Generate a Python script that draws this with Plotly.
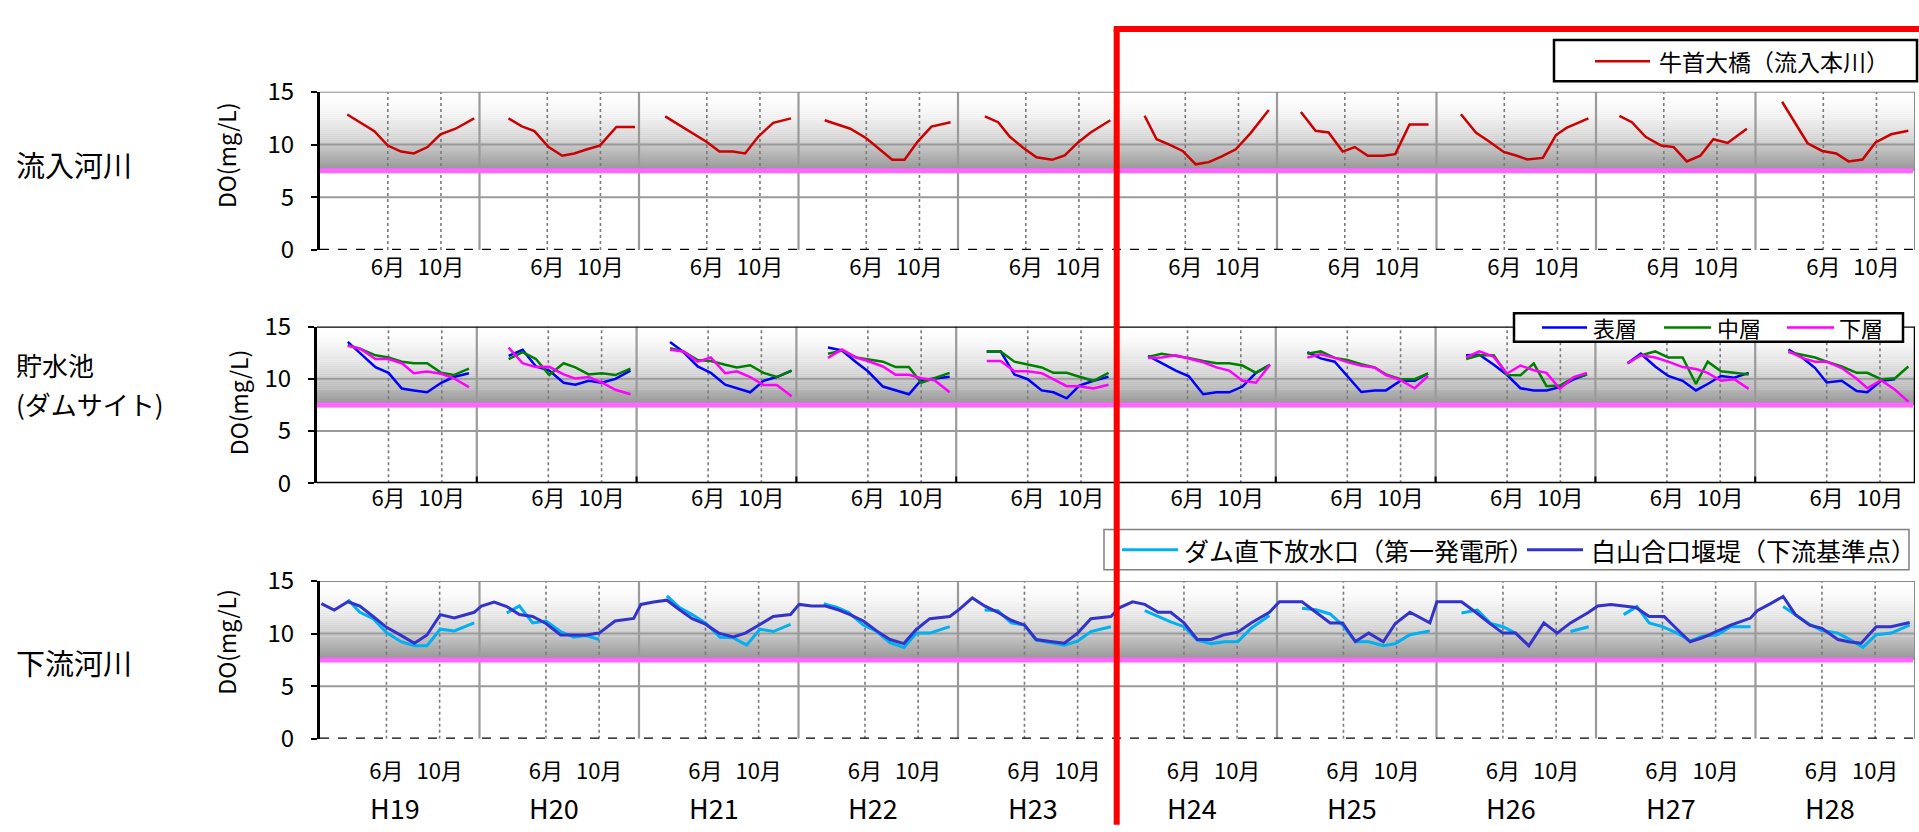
import plotly.graph_objects as go

# ---------------- data ----------------
years = ["H19", "H20", "H21", "H22", "H23", "H24", "H25", "H26", "H27", "H28"]
month_ticks = [5, 9]
month_ticktext = ["6月", "10月"]

# 流入河川 : 牛首大橋(流入本川)  (month position within year: 0 = 1月, 5 = 6月)
inflow_month = [
    [1.95, 3.99, 5.0, 6.0, 6.95, 7.99, 8.96, 10.1, 11.5],
    [2.08, 3.09, 4.03, 5.1, 6.13, 7.03, 8.0, 8.95, 10.2, 11.6],
    [1.87, 4.0, 5.0, 5.95, 6.95, 7.88, 8.88, 10.0, 11.34],
    [1.87, 3.8, 5.0, 6.95, 7.88, 8.88, 9.9, 11.34],
    [1.92, 2.92, 3.8, 4.8, 5.8, 6.98, 7.93, 8.93, 9.88, 11.36],
    [1.94, 2.84, 3.8, 4.8, 5.79, 6.77, 7.75, 8.8, 9.9, 11.28],
    [1.7, 2.8, 3.78, 4.84, 5.75, 6.73, 7.9, 8.8, 9.87, 11.3],
    [1.74, 2.88, 3.78, 4.96, 5.94, 6.73, 7.9, 8.89, 9.68, 11.33],
    [1.66, 2.6, 3.63, 4.8, 5.75, 6.73, 7.75, 8.73, 9.8, 11.25],
    [1.9, 2.84, 3.82, 4.92, 5.98, 6.9, 7.95, 8.93, 10.1, 11.4],
]
inflow_do = [
    [12.85, 11.27, 9.9, 9.33, 9.15, 9.76, 10.97, 11.5, 12.48],
    [12.48, 11.73, 11.27, 9.76, 8.94, 9.15, 9.55, 9.9, 11.67, 11.67],
    [12.67, 11.03, 10.24, 9.33, 9.33, 9.15, 10.76, 12.06, 12.48],
    [12.3, 11.5, 10.6, 8.55, 8.55, 10.3, 11.7, 12.12],
    [12.67, 12.12, 10.73, 9.7, 8.79, 8.55, 8.97, 10.2, 11.15, 12.3],
    [12.73, 10.5, 10.0, 9.39, 8.12, 8.33, 8.88, 9.55, 11.06, 13.27],
    [13.09, 11.3, 11.15, 9.33, 9.76, 8.94, 8.94, 9.09, 11.9, 11.9],
    [12.88, 11.12, 10.36, 9.3, 8.94, 8.58, 8.73, 10.9, 11.58, 12.48],
    [12.73, 12.12, 10.73, 9.9, 9.76, 8.4, 8.94, 10.5, 10.15, 11.5],
    [14.06, 12.12, 10.12, 9.39, 9.15, 8.4, 8.58, 10.2, 10.97, 11.3],
]

# 貯水池(ダムサイト) : 表層 / 中層 / 下層
dam_month = [
    [1.94, 2.9, 4.02, 5.0, 6.0, 6.9, 7.9, 8.96, 9.9, 11.04],
    [2.02, 3.07, 4.07, 5.07, 6.15, 7.03, 8.03, 9.0, 10.04, 11.17],
    [2.14, 3.15, 4.22, 5.2, 6.28, 7.16, 8.16, 9.16, 10.16, 11.27],
    [2.0, 3.05, 4.12, 5.0, 6.13, 7.08, 8.08, 9.0, 10.0, 11.14],
    [1.92, 2.97, 4.0, 5.0, 6.05, 6.93, 7.93, 8.88, 9.94, 11.07],
    [2.04, 3.05, 4.12, 5.1, 6.18, 7.18, 8.13, 9.13, 10.14, 11.19],
    [2.0, 3.0, 4.05, 5.0, 6.05, 7.05, 7.9, 9.0, 10.06, 11.06],
    [1.92, 2.92, 4.0, 5.0, 6.0, 7.0, 7.96, 8.96, 10.0, 11.0],
    [2.04, 3.04, 4.12, 5.1, 6.18, 7.18, 8.06, 9.06, 10.06, 11.14],
    [2.13, 3.25, 4.13, 5.0, 6.13, 7.25, 8.05, 9.08, 10.13, 11.13],
]
dam_surface = [
    [13.53, 12.4, 11.12, 10.57, 9.07, 8.89, 8.71, 9.62, 10.17, 10.54],
    [12.19, 12.77, 11.18, 10.79, 9.62, 9.44, 9.81, 9.62, 9.99, 10.79],
    [13.53, 12.56, 11.18, 10.57, 9.44, 9.07, 8.71, 9.81, 10.17, 10.79],
    [13.0, 12.71, 11.58, 10.72, 9.26, 8.89, 8.52, 9.87, 10.05, 10.2],
    [12.62, 12.62, 10.42, 9.96, 8.89, 8.71, 8.13, 9.35, 9.81, 10.2],
    [12.19, 11.49, 10.79, 10.24, 8.52, 8.71, 8.71, 9.26, 10.57, 11.34],
    [12.56, 11.95, 11.64, 10.27, 8.74, 8.89, 8.89, 9.81, 9.81, 10.51],
    [12.25, 12.31, 11.34, 10.36, 9.1, 8.89, 8.89, 9.2, 9.96, 10.42],
    [11.49, 12.4, 11.18, 10.27, 9.81, 8.89, 9.5, 10.27, 10.11, 10.57],
    [12.8, 11.95, 11.03, 9.65, 9.81, 8.83, 8.71, 9.81, 9.96, None],
]
dam_middle = [
    [13.23, 12.86, 12.25, 12.04, 11.64, 11.49, 11.49, 10.57, 10.36, 10.97],
    [11.89, 12.56, 11.89, 10.36, 11.49, 11.09, 10.42, 10.54, 10.36, 10.97],
    [12.92, 12.62, 11.79, 11.7, 11.34, 11.09, 11.3, 10.57, 10.17, 10.79],
    [12.4, 12.71, 12.04, 11.89, 11.64, 11.12, 11.12, 9.62, 10.05, 10.57],
    [12.62, 12.62, 11.64, 11.34, 11.09, 10.57, 10.57, 10.2, 9.81, 10.57],
    [12.1, 12.4, 12.19, 12.0, 11.7, 11.49, 11.49, 11.27, 10.57, 11.34],
    [12.4, 12.62, 12.0, 11.8, 11.4, 11.09, 10.42, 9.96, 9.96, 10.51],
    [11.89, 12.25, 12.25, 10.36, 10.33, 11.46, 9.29, 9.35, 10.11, 10.42],
    [11.49, 12.25, 12.62, 12.04, 12.04, 9.5, 11.64, 10.72, 10.57, 10.42],
    [12.56, 12.25, 12.04, 11.64, 11.18, 10.57, 10.57, 9.96, 10.05, 11.18],
]
dam_bottom = [
    [13.17, 12.86, 11.89, 11.89, 11.49, 10.54, 10.69, 10.48, 10.05, 9.2],
    [12.98, 11.49, 11.12, 11.15, 10.42, 10.02, 10.17, 9.65, 8.95, 8.52],
    [12.77, 12.62, 11.64, 12.04, 10.54, 10.72, 10.17, 9.41, 9.41, 8.34],
    [12.0, 12.8, 12.04, 11.7, 11.18, 10.39, 10.39, 10.05, 9.87, 8.71],
    [11.7, 11.7, 10.72, 10.72, 10.54, 9.96, 9.29, 9.29, 9.07, 9.44],
    [12.0, 12.04, 12.25, 11.95, 11.58, 11.09, 10.79, 9.81, 9.62, 11.34],
    [12.04, 12.34, 12.0, 11.6, 11.24, 11.09, 10.36, 9.87, 9.1, 10.27],
    [12.04, 12.62, 12.1, 10.51, 11.27, 10.82, 10.57, 9.04, 10.17, 10.57],
    [11.49, 12.25, 12.04, 11.64, 11.12, 10.94, 10.57, 9.81, 9.96, 9.04],
    [12.62, 11.95, 11.64, 11.64, 11.03, 10.0, 9.1, 9.87, 8.95, 7.82],
]

# 下流河川 : ダム直下放水口(第一発電所)
outlet_month = [
    [2.1, 3.0, 4.0, 5.0, 6.1, 7.1, 8.05, 9.05, 10.1, 11.6],
    [2.05, 3.0, 4.0, 5.0, 6.1, 7.1, 8.0, 9.0],
    [2.1, 3.05, 4.0, 5.0, 6.1, 7.1, 8.1, 9.1, 10.1, 11.4],
    [1.9, 2.9, 3.75, 4.88, 5.88, 6.88, 7.93, 8.88, 9.88, 11.38],
    [2.0, 3.0, 4.0, 5.0, 5.88, 6.88, 8.0, 9.0, 10.0, 11.5],
    [2.05, 3.05, 4.0, 5.0, 6.0, 7.05, 8.05, 9.05, 10.05, 11.43],
    [1.88, 2.93, 4.0, 4.93, 5.9, 6.9, 8.0, 8.9, 10.0, 11.5],
    [1.88, 3.08, 4.08, 5.0, 5.95, 7.0, 8.08, 9.08, 10.08, 11.45],
    [2.08, 3.08, 4.0, 5.0, 6.1, 7.08, 8.0, 9.13, 10.13, 11.63],
    [2.08, 3.0, 4.08, 5.0, 6.2, 7.1, 8.08, 9.08, 10.2, 11.6],
]
outlet_do = [
    [13.24, 12.03, 11.42, 10.11, 9.23, 8.84, 8.84, 10.42, 10.26, 11.02],
    [11.96, 12.63, 11.02, 11.2, 10.2, 9.66, 9.81, 9.44],
    [13.6, 12.48, 11.81, 11.02, 9.66, 9.6, 8.9, 10.42, 10.2, 10.87],
    [12.85, 12.5, 12.03, 10.81, 10.2, 9.14, 8.69, 10.05, 10.05, 10.66],
    [12.24, 12.18, 11.02, 10.81, 9.38, 9.14, 8.9, 9.29, 10.2, 10.66],
    [12.18, 11.63, 11.11, 10.66, 9.38, 9.05, 9.23, 9.23, 10.51, 11.72],
    [12.42, 12.27, 11.87, 10.81, 9.23, 9.23, 8.84, 9.05, 9.9, 10.26],
    [11.96, 12.24, 10.96, 10.66, 10.05, None, None, None, 10.2, 10.66],
    [11.81, 12.57, 11.02, 10.66, 10.05, 9.29, 9.75, 9.9, 10.66, 10.66],
    [12.57, 11.8, 10.87, 10.3, 10.05, 9.44, 8.69, 9.9, 10.05, 10.81],
]

# 下流河川 : 白山合口堰堤(下流基準点)
weir_month = [
    [0.1, 1.07, 2.1, 3.0, 4.0, 5.0, 6.0, 7.1, 8.05, 9.05, 10.1, 11.6],
    [0.15, 1.1, 2.05, 3.0, 4.0, 5.0, 6.1, 7.1, 8.0, 9.0, 10.2, 11.6],
    [0.15, 1.1, 2.1, 3.05, 4.0, 5.0, 6.0, 7.1, 8.0, 9.1, 10.1, 11.4],
    [0.05, 1.0, 2.03, 2.9, 3.88, 4.88, 5.88, 6.88, 7.93, 8.88, 9.88, 11.38],
    [0.12, 1.08, 2.0, 3.0, 4.0, 5.0, 5.88, 6.95, 8.0, 9.0, 10.0, 11.5],
    [0.18, 1.13, 2.05, 3.05, 4.0, 5.0, 6.0, 7.05, 8.05, 9.05, 10.05, 11.43],
    [0.18, 1.0, 1.88, 2.93, 4.0, 4.93, 5.9, 6.9, 8.0, 8.9, 10.0, 11.5],
    [0.03, 1.0, 1.88, 2.95, 3.95, 5.0, 5.95, 6.95, 8.08, 9.08, 10.08, 11.45],
    [0.13, 1.13, 2.05, 3.0, 4.0, 5.13, 6.1, 7.08, 8.0, 9.13, 10.13, 11.63],
    [0.13, 1.13, 2.08, 3.0, 4.08, 5.0, 6.2, 7.1, 7.95, 9.08, 10.2, 11.6],
]
weir_do = [
    [12.85, 12.24, 13.03, 12.63, 11.63, 10.6, 9.9, 9.08, 9.87, 11.81, 11.48, 12.03],
    [12.63, 13.0, 12.57, 11.81, 11.63, 10.96, 9.87, 9.84, 9.87, 10.05, 11.2, 11.45],
    [12.78, 13.0, 13.18, 12.27, 11.42, 10.9, 10.05, 9.69, 10.05, 10.87, 11.63, 11.81],
    [12.78, 12.63, 12.63, 12.3, 11.81, 11.2, 10.26, 9.44, 9.05, 10.42, 11.42, 11.63],
    [12.33, 13.39, 12.63, 12.03, 11.27, 10.81, 9.44, 9.26, 9.08, 10.05, 11.42, 11.63],
    [12.48, 13.03, 12.78, 12.03, 12.03, 11.02, 9.44, 9.44, 9.9, 10.14, 11.02, 12.03],
    [13.03, 13.03, 13.03, 12.03, 11.02, 11.02, 9.25, 10.05, 9.23, 10.96, 12.03, 11.02],
    [13.03, 13.03, 13.03, 12.03, 11.02, 10.05, 10.05, 8.84, 11.02, 10.05, 11.02, 12.03],
    [12.63, 12.78, 12.63, 12.48, 11.63, 11.63, 10.42, 9.23, 9.6, 10.26, 10.81, 11.48],
    [12.18, 12.85, 13.54, 11.81, 10.81, 10.5, 9.44, 9.2, 9.08, 10.66, 10.66, 11.05],
]

standard_do = 7.5

# ---------------- layout helpers ----------------
W, H = 1919, 832
FONT = "Noto Sans CJK JP"


def px(x):
    return x / W


def py(y):
    return 1 - y / H


# panels: (x-domain px, y-domain px, month offset)
panels = [
    dict(x0=320, x1=1915, top=75, bottom=240, off=0.1),
    dict(x0=317, x1=1915, top=320, bottom=483.7, off=0.37),
    dict(x0=320, x1=1915, top=585.7, bottom=750.3, off=0.0),
]


def build(months, vals, off, connect=False):
    xs, ys = [], []
    for yi, (ms, vs) in enumerate(zip(months, vals)):
        for m, v in zip(ms, vs):
            xs.append(yi * 12 + m + off)
            ys.append(v)
        if not connect:
            xs.append(None)
            ys.append(None)
    return xs, ys


fig = go.Figure()

# panel 1
x, y = build(inflow_month, inflow_do, panels[0]["off"])
fig.add_trace(go.Scatter(x=x, y=y, mode="lines", name="牛首大橋(流入本川)",
                         line=dict(color="#cc0000", width=2.5),
                         xaxis="x", yaxis="y", showlegend=False))
# panel 2
for vals, col, nm in [(dam_surface, "#0000ff", "表層"),
                      (dam_middle, "#008000", "中層"),
                      (dam_bottom, "#ff00ff", "下層")]:
    x, y = build(dam_month, vals, panels[1]["off"])
    fig.add_trace(go.Scatter(x=x, y=y, mode="lines", name=nm,
                             line=dict(color=col, width=2.5),
                             xaxis="x2", yaxis="y2", showlegend=False))
# panel 3
x, y = build(outlet_month, outlet_do, panels[2]["off"])
fig.add_trace(go.Scatter(x=x, y=y, mode="lines", name="ダム直下放水口(第一発電所)",
                         line=dict(color="#00b0f0", width=3),
                         xaxis="x3", yaxis="y3", showlegend=False))
x, y = build(weir_month, weir_do, panels[2]["off"], connect=True)
fig.add_trace(go.Scatter(x=x, y=y, mode="lines", name="白山合口堰堤(下流基準点)",
                         line=dict(color="#3333cc", width=3),
                         xaxis="x3", yaxis="y3", showlegend=False))

shapes = []
annotations = []
nyears = len(years)
xmax = nyears * 12

for i, p in enumerate(panels):
    xr = "x" if i == 0 else f"x{i+1}"
    yr = "y" if i == 0 else f"y{i+1}"
    # gradient band from standard up to 15
    nb = 40
    step = (15 - standard_do) / nb
    for j in range(nb):
        y0 = standard_do + j * step
        t = (y0 + step / 2 - standard_do) / (15 - standard_do)
        g = int(round(255 - 108 * (1 - t) ** 1.7))
        shapes.append(dict(type="rect", xref=xr, yref=yr, x0=0, x1=xmax, y0=y0, y1=y0 + step + 0.01,
                           fillcolor=f"rgb({g},{g},{g})", line=dict(width=0), layer="below"))
    # horizontal grid lines
    for v in [5, 10]:
        shapes.append(dict(type="line", xref=xr, yref=yr, x0=0, x1=xmax, y0=v, y1=v,
                           line=dict(color="#9a9a9a", width=2), layer="below"))
    # year separators
    for k in range(1, nyears):
        shapes.append(dict(type="line", xref=xr, yref=yr, x0=12 * k, x1=12 * k, y0=0, y1=15,
                           line=dict(color="#9a9a9a", width=2.2), layer="below"))
    # month dotted lines
    for k in range(nyears):
        for mt in month_ticks:
            xv = 12 * k + mt + p["off"]
            shapes.append(dict(type="line", xref=xr, yref=yr, x0=xv, x1=xv, y0=0, y1=15,
                               line=dict(color="#7a7a7a", width=1.6, dash="dot"), layer="below"))
    # standard line
    shapes.append(dict(type="line", xref=xr, yref=yr, x0=0, x1=xmax - 0.15, y0=standard_do, y1=standard_do,
                       line=dict(color="#ff66ff", width=5), layer="below"))
    border = "#000000" if i == 1 else "#8c8c8c"
    # top and right border
    shapes.append(dict(type="line", xref=xr, yref=yr, x0=0, x1=xmax, y0=15, y1=15,
                       line=dict(color=border, width=2.5 if i == 1 else 2), layer="below"))
    shapes.append(dict(type="line", xref=xr, yref=yr, x0=xmax, x1=xmax, y0=0, y1=15,
                       line=dict(color=border, width=2.5 if i == 1 else 2), layer="below"))
    # bottom axis
    if i == 1:
        shapes.append(dict(type="line", xref=xr, yref=yr, x0=0, x1=xmax, y0=0, y1=0,
                           line=dict(color="#000000", width=3), layer="above"))
        for k in range(1, nyears):
            shapes.append(dict(type="line", xref=xr, yref=yr, x0=12 * k, x1=12 * k, y0=0, y1=0.65,
                               line=dict(color="#000000", width=2), layer="above"))
    else:
        shapes.append(dict(type="line", xref=xr, yref=yr, x0=0, x1=xmax, y0=0, y1=0,
                           line=dict(color="#000000", width=2.5, dash="dash"), layer="above"))

# axes
layout_axes = {}
for i, p in enumerate(panels):
    xa = "xaxis" if i == 0 else f"xaxis{i+1}"
    ya = "yaxis" if i == 0 else f"yaxis{i+1}"
    xname = "x" if i == 0 else f"x{i+1}"
    yname = "y" if i == 0 else f"y{i+1}"
    tv, tt = [], []
    for k in range(nyears):
        for mt, lab in zip(month_ticks, month_ticktext):
            tv.append(12 * k + mt + p["off"])
            tt.append(lab)
    layout_axes[xa] = dict(domain=[px(p["x0"]), px(p["x1"])], range=[0, xmax], anchor=yname,
                           showgrid=False, zeroline=False, showline=False,
                           tickmode="array", tickvals=tv, ticktext=tt, ticks="",
                           ticklabelstandoff=[2, 0, 17][i],
                           tickfont=dict(family=FONT, size=22, color="#000000"), fixedrange=True)
    layout_axes[ya] = dict(domain=[py(p["bottom"]), py(p["top"])], range=[0, 15], anchor=xname,
                           tickmode="array", tickvals=[0, 5, 10, 15], ticktext=["0", "5", "10", "15"],
                           showgrid=False, zeroline=False, showline=True, linecolor="#000000", linewidth=3,
                           ticks="outside", ticklen=6, tickwidth=2, tickcolor="#000000",
                           ticklabelstandoff=12,
                           tickfont=dict(family=FONT, size=24, color="#000000"), fixedrange=True)

# y titles and left section labels
for yc, xc in [(142, 226), (400, 238), (650, 226)]:
    annotations.append(dict(text="DO(mg/L)", x=px(xc), y=py(yc), xref="paper", yref="paper",
                            showarrow=False, textangle=-90, xanchor="center", yanchor="middle",
                            font=dict(family=FONT, size=23, color="#000000")))
for txt, yc, sz in [("流入河川", 150, 29), ("貯水池", 360, 26), ("(ダムサイト)", 400, 26), ("下流河川", 670, 29)]:
    annotations.append(dict(text=txt, x=px(14), y=py(yc), xref="paper", yref="paper",
                            showarrow=False, xanchor="left", yanchor="middle", align="left",
                            font=dict(family=FONT, size=sz, color="#000000")))
# year labels
for k, yl in enumerate(years):
    annotations.append(dict(text=yl, x=px(320 + 159.5 * (k + 0.5) - 5), y=py(822), xref="paper", yref="paper",
                            showarrow=False, xanchor="center", yanchor="middle",
                            font=dict(family=FONT, size=27, color="#000000")))


# legends (drawn as boxes)
def legend_box(x0, y0, x1, y1, color, width):
    shapes.append(dict(type="rect", xref="paper", yref="paper", x0=px(x0), x1=px(x1), y0=py(y1), y1=py(y0),
                       fillcolor="#ffffff", line=dict(color=color, width=width), layer="above"))


def legend_item(lx0, lx1, yc, col, lw, txt, tx, size):
    shapes.append(dict(type="line", xref="paper", yref="paper", x0=px(lx0), x1=px(lx1), y0=py(yc), y1=py(yc),
                       line=dict(color=col, width=lw), layer="above"))
    annotations.append(dict(text=txt, x=px(tx), y=py(yc), xref="paper", yref="paper", showarrow=False,
                            xanchor="left", yanchor="middle", font=dict(family=FONT, size=size, color="#000000")))


legend_box(1554, 21, 1917, 64, "#000000", 2.5)
legend_item(1595, 1650, 43, "#cc0000", 2.5, "牛首大橋（流入本川）", 1657, 23)

legend_box(1514, 306, 1903, 336, "#000000", 2.5)
legend_item(1542, 1587, 321, "#0000ff", 2.5, "表層", 1591, 22)
legend_item(1664, 1711, 321, "#008000", 2.5, "中層", 1715, 22)
legend_item(1787, 1834, 321, "#ff00ff", 2.5, "下層", 1837, 22)

legend_box(1104, 532, 1909, 574, "#808080", 1.5)
legend_item(1122, 1178, 553, "#00b0f0", 3, "ダム直下放水口（第一発電所）", 1182, 25)
legend_item(1527, 1583, 553, "#3333cc", 3, "白山合口堰堤（下流基準点）", 1589, 25)

# red highlight frame
shapes.append(dict(type="line", xref="paper", yref="paper", x0=px(1116.7), x1=px(1116.7), y0=py(9.5), y1=py(840),
                   line=dict(color="#ff0000", width=6), layer="above"))
shapes.append(dict(type="line", xref="paper", yref="paper", x0=px(1113.7), x1=px(1925), y0=py(9.5), y1=py(9.5),
                   line=dict(color="#ff0000", width=6), layer="above"))

fig.update_layout(width=W, height=H, margin=dict(l=0, r=0, t=0, b=0),
                  paper_bgcolor="#ffffff", plot_bgcolor="#ffffff",
                  font=dict(family=FONT, color="#000000"),
                  showlegend=False, shapes=shapes, annotations=annotations, **layout_axes)

fig.write_html("out.html")
